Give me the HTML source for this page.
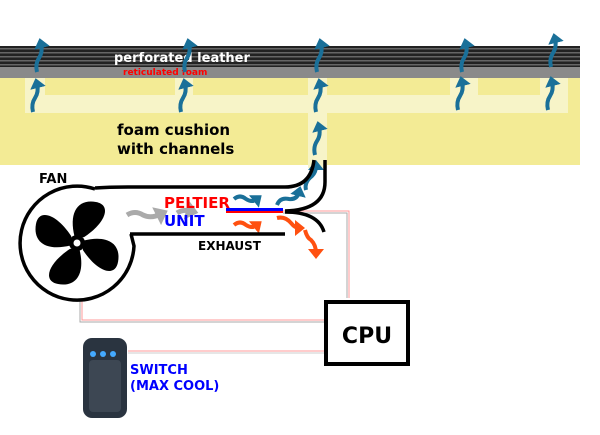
<!DOCTYPE html>
<html><head><style>
body{margin:0;width:600px;height:431px;background:#fff;overflow:hidden;font-family:"DejaVu Sans","Liberation Sans",sans-serif}
</style></head><body>
<svg width="600" height="431" xmlns="http://www.w3.org/2000/svg">
<defs>
<pattern id="lea" width="4" height="4" patternUnits="userSpaceOnUse"><rect width="4" height="4" fill="#222"/><rect width="4" height="1.5" fill="#666"/></pattern>
<marker id="hb" markerWidth="4" markerHeight="4" refX="1" refY="2" orient="auto" markerUnits="strokeWidth"><path d="M0,0 L2.5,2 L0,4z" fill="#1a7099"/></marker>
<marker id="ho" markerWidth="4" markerHeight="4" refX="1" refY="2" orient="auto" markerUnits="strokeWidth"><path d="M0,0 L2.5,2 L0,4z" fill="#ff5010"/></marker>
<marker id="hg" markerWidth="4" markerHeight="4" refX="1" refY="2" orient="auto" markerUnits="strokeWidth"><path d="M0,0 L2.5,2 L0,4z" fill="#aaa"/></marker>
</defs>
<rect x="0" y="46" width="580" height="21" fill="url(#lea)"/>
<rect x="0" y="67" width="580" height="11" fill="#8a8a8a"/>
<rect x="0" y="78" width="580" height="87" fill="#f3eb95"/>
<g fill="#f7f4c8">
<rect x="25" y="95" width="543" height="18"/>
<rect x="25" y="78" width="20" height="35"/>
<rect x="175" y="78" width="18" height="35"/>
<rect x="308" y="78" width="19" height="90"/>
<rect x="450" y="78" width="28" height="35"/>
<rect x="540" y="78" width="28" height="35"/>
</g>
<text x="114" y="62" font-size="13" font-weight="bold" fill="#fff">perforated leather</text>
<text x="123" y="75" font-size="9" font-weight="bold" fill="#f00">reticulated foam</text>
<text x="117" y="135" font-size="15" font-weight="bold">foam cushion</text>
<text x="117" y="154" font-size="15" font-weight="bold">with channels</text>
<g fill="none" stroke="#1a7099" stroke-width="4" marker-end="url(#hb)">
<path d="M37,72 q-2,-8 2,-14 q4,-6 2,-14"/>
<path d="M185,72 q-2,-8 2,-14 q4,-6 2,-14"/>
<path d="M317,72 q-2,-8 2,-14 q4,-6 2,-14"/>
<path d="M462,72 q-2,-8 2,-14 q4,-6 2,-14"/>
<path d="M551,67 q-2,-8 2,-14 q4,-6 2,-14"/>
<path d="M33,112 q-2,-8 2,-14 q4,-6 2,-14"/>
<path d="M181,112 q-2,-8 2,-14 q4,-6 2,-14"/>
<path d="M316,112 q-2,-8 2,-14 q4,-6 2,-14"/>
<path d="M458,110 q-2,-8 2,-14 q4,-6 2,-14"/>
<path d="M548,110 q-2,-8 2,-14 q4,-6 2,-14"/>
<path d="M315,155 q-2,-8 2,-14 q4,-6 2,-14"/>
<path d="M234,199 q6,-5 12,0 q6,4 11,0"/>
<path d="M277,205 q3,-8 12,-6 q8,1 10,-7"/>
<path d="M306,190 q-2,-8 6,-14 q4,-4 4,-10"/>
</g>
<g fill="none" stroke="#ff5010" stroke-width="4" marker-end="url(#ho)">
<path d="M234,225 q6,-5 12,0 q6,4 11,0"/>
<path d="M277,218 q8,-2 14,5 q4,5 8,5"/>
<path d="M305,230 q2,8 6,10 q5,5 5,13"/>
</g>
<path d="M127,215 q8,-5 16,0 q8,4 18,-1" fill="none" stroke="#aaa" stroke-width="5" marker-end="url(#hg)"/>
<path d="M177,213 q6,-4 14,-2" fill="none" stroke="#aaa" stroke-width="5" marker-end="url(#hg)"/>
<g fill="none" stroke-width="1">
<path d="M283,211 H349 V298" stroke="#f99"/>
<path d="M283,213 H347 V298" stroke="#aaa"/>
<path d="M80,300 V322 H325" stroke="#aaa"/>
<path d="M82,300 V320 H325" stroke="#f99"/>
<path d="M128,351 H325" stroke="#f99"/>
<path d="M128,353 H325" stroke="#ccc"/>
</g>
<g fill="none" stroke="#000" stroke-width="3.5">
<path d="M95,188 Q110,187 133,187 H285 Q311,187 314,160"/>
<path d="M325,160 V182 Q325,210 285,211"/>
<path d="M285,212 Q318,212 324,232"/>
<path d="M130,234 H285"/>
<path d="M131,234 L134,246 A57 57 0 1 1 95,189"/>
</g>
<g fill="#000" transform="translate(77,243) scale(1.15) rotate(10)">
<circle r="7"/>
<path d="M-3,-5 C-12,-25 -6,-38 10,-38 C24,-38 22,-22 5,-6z"/>
<path d="M5,-3 C25,-12 38,-6 38,10 C38,24 22,22 6,5z"/>
<path d="M3,5 C12,25 6,38 -10,38 C-24,38 -22,22 -5,6z"/>
<path d="M-5,3 C-25,12 -38,6 -38,-10 C-38,-24 -22,-22 -6,-5z"/>
</g>
<circle cx="77" cy="243" r="3.5" fill="#fff"/>
<rect x="226" y="208" width="57" height="3" fill="#00f"/>
<rect x="226" y="211" width="57" height="2" fill="#f00"/>
<text x="39" y="183" font-size="13" font-weight="bold">FAN</text>
<text x="164" y="208" font-size="15" font-weight="bold" fill="#f00">PELTIER</text>
<text x="164" y="226" font-size="15" font-weight="bold" fill="#00f">UNIT</text>
<text x="198" y="250" font-size="12" font-weight="bold">EXHAUST</text>
<rect x="326" y="302" width="82" height="62" fill="#fff" stroke="#000" stroke-width="4"/>
<text x="367" y="343" font-size="22" font-weight="bold" text-anchor="middle">CPU</text>
<rect x="83" y="338" width="44" height="80" rx="9" fill="#2a3440"/>
<rect x="89" y="360" width="32" height="52" rx="4" fill="#3d4753"/>
<circle cx="93" cy="354" r="3" fill="#4af"/><circle cx="103" cy="354" r="3" fill="#4af"/><circle cx="113" cy="354" r="3" fill="#4af"/>
<text x="130" y="374" font-size="13" font-weight="bold" fill="#00f">SWITCH</text>
<text x="130" y="390" font-size="13" font-weight="bold" fill="#00f">(MAX COOL)</text>
</svg>
</body></html>
